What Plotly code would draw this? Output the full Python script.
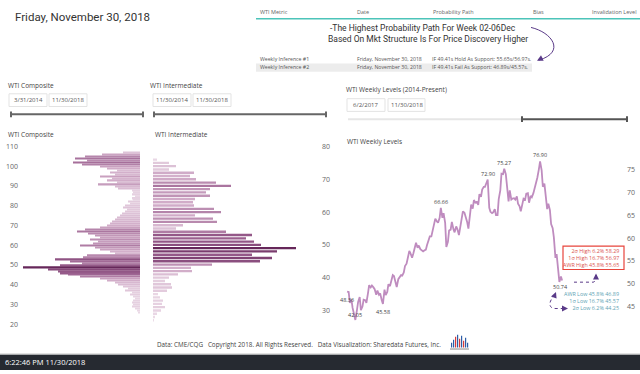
import plotly.graph_objects as go
import pandas as pd

# ---------------- data ----------------
comp_levels = list(range(107, 25, -1))  # 107 .. 26
comp_counts = [17, 38, 55, 65, 53, 67, 58, 40,
               33, 23, 30, 25, 40, 28, 33, 23, 42, 25,
               22, 8, 7, 8, 5, 8, 7, 12, 10, 15,
               17, 13, 15, 18, 20, 23, 25, 28, 30, 33,
               40, 55, 63, 52, 45, 40, 50, 42, 47, 60,
               45, 40, 30, 25, 53, 57, 85, 70, 58, 80,
               117, 92, 82, 80, 72, 60, 40, 33, 25, 22,
               17, 12, 15, 8, 10, 7, 5, 7, 8, 7,
               8, 5, 3, 2]
comp_ticks = [20, 30, 40, 50, 60, 70, 80, 90, 100, 110]

inter_levels = list(range(76, 26, -1))  # 76 .. 27
inter_counts = [4, 16, 23, 16, 41, 37, 43, 63, 78, 57,
                53, 57, 42, 40, 41, 61, 68, 42, 60, 64,
                30, 23, 73, 99, 93, 101, 108, 143, 124, 99,
                119, 107, 59, 38, 39, 25, 16, 12, 18, 19,
                14, 5, 7, 10, 9, 12, 8, 4, 2, 1]
inter_ticks = [30, 40, 50, 60, 70, 80]

fri_dates = pd.date_range("2017-06-02", "2018-11-30", freq="W-FRI")
fri_values = [48.3, 45.8, 44.7, 42.05, 46.0, 44.2, 46.5, 45.8, 49.7, 49.6,
              48.8, 48.5, 47.9, 45.58, 47.5, 49.9, 50.7, 51.7, 49.3, 51.5,
              51.8, 53.9, 55.6, 56.7, 56.6, 59.0, 58.4, 57.4, 57.3, 58.5,
              60.4, 61.4, 64.3, 63.4, 66.66, 65.5, 58.1, 61.7, 63.6, 61.3,
              62.0, 62.3, 65.9, 64.9, 62.1, 67.4, 68.4, 68.1, 69.7, 70.7,
              71.3, 72.90, 65.8, 65.7, 65.1, 68.6, 74.2, 75.27, 71.0, 70.5,
              68.7, 68.5, 67.6, 65.9, 68.7, 69.8, 67.8, 69.0, 70.8, 73.3,
              76.90, 71.3, 69.1, 67.6, 63.1, 60.2, 56.5, 50.4, 50.74]
tue_dates = pd.date_range("2017-06-06", "2018-11-27", freq="W-TUE")
tue_values = [48.2, 46.5, 43.2, 44.2, 47.1, 45.0, 46.4, 47.9, 49.2, 49.2,
              47.6, 47.6, 46.4, 48.7, 48.2, 49.5, 51.9, 50.4, 51.0, 51.9,
              52.5, 54.4, 57.2, 55.7, 57.8, 57.9, 57.6, 57.1, 57.5, 59.97,
              60.4, 63.0, 63.7, 64.5, 64.5, 63.4, 59.2, 61.9, 62.0, 62.6,
              60.7, 63.5, 65.6, 63.5, 65.5, 66.5, 67.7, 67.3, 69.1, 71.3,
              72.2, 66.7, 65.5, 66.4, 65.1, 70.5, 74.1, 74.1, 68.1, 68.5,
              68.8, 69.2, 67.0, 67.4, 68.5, 69.9, 69.3, 69.9, 72.3, 75.2,
              74.9, 72.0, 66.4, 66.2, 62.2, 55.7, 53.4, 51.6]
week_ticks = [45, 50, 55, 60, 65, 70, 75]

label_dates = ["2017-06-02", "2017-06-23", "2017-09-01", "2018-01-26",
               "2018-05-25", "2018-07-06", "2018-10-05", "2018-11-30"]
label_values = [48.3, 42.05, 45.58, 66.66, 72.90, 75.27, 76.90, 50.74]
label_texts = ["48.36", "42.05", "45.58", "66.66", "72.90", "75.27", "76.90", "50.74"]
label_shift = [-8, 5, -8, 6, 6, 6, 6, -7]
label_xshift = [0, 0, 0, 0, 0, 0, 0, -2]

high_lines = ["2σ High 6.2% 58.29", "1σ High 16.7% 56.97", "AWR High 45.8% 55.65"]
low_lines = ["AWR Low 45.8% 46.89", "1σ Low 16.7% 45.57", "2σ Low 6.2% 44.25"]

series = pd.concat([pd.Series(fri_values, index=fri_dates),
                    pd.Series(tue_values, index=tue_dates)]).sort_index()

# ---------------- helpers ----------------
W, H = 640, 374
def X(px): return px / W
def Y(py): return 1 - py / H

FONT = "Open Sans"
scale = [[0, "#ecdce8"], [0.3, "#cfa9c6"], [0.65, "#9a5f8e"], [1, "#66275a"]]

fig = go.Figure()
fig.add_trace(go.Bar(y=comp_levels, x=comp_counts, orientation="h", xaxis="x", yaxis="y",
                     width=0.72, showlegend=False, hoverinfo="skip",
                     marker=dict(color=comp_counts, colorscale=scale, cmin=0,
                                 cmax=max(comp_counts), line=dict(width=0))))
fig.add_trace(go.Bar(y=inter_levels, x=inter_counts, orientation="h", xaxis="x2", yaxis="y2",
                     width=0.72, showlegend=False, hoverinfo="skip",
                     marker=dict(color=inter_counts, colorscale=scale, cmin=0,
                                 cmax=max(inter_counts), line=dict(width=0))))
fig.add_trace(go.Scatter(x=series.index, y=series.values, xaxis="x3", yaxis="y3", mode="lines",
                         line=dict(color="#bf8cbf", width=1.8), showlegend=False,
                         hoverinfo="skip"))

tickfont = dict(family=FONT, size=7, color="#666666")
hidden = dict(showticklabels=False, showgrid=False, zeroline=False, showline=False, ticks="")

fig.update_layout(
    width=W, height=H, margin=dict(l=0, r=0, t=0, b=0),
    paper_bgcolor="white", plot_bgcolor="white", showlegend=False,
    font=dict(family=FONT, color="#444"),
    xaxis=dict(domain=[X(22), X(140)], range=[118, 0], anchor="y", **hidden),
    yaxis=dict(domain=[Y(327), Y(145)], range=[20, 110], anchor="x", side="left",
               tickvals=comp_ticks, tickfont=tickfont, showgrid=False, zeroline=False,
               showline=False, ticks="", ticklabelstandoff=3),
    xaxis2=dict(domain=[X(153), X(318)], range=[0, 165], anchor="y2", **hidden),
    yaxis2=dict(domain=[Y(329.8), Y(145)], range=[25, 80], anchor="x2", side="right",
                tickvals=inter_ticks, tickfont=tickfont, showgrid=False, zeroline=False,
                showline=False, ticks="", ticklabelstandoff=3),
    xaxis3=dict(domain=[X(340), X(622)], range=["2017-05-15", "2019-05-01"], type="date",
                anchor="y3", **hidden),
    yaxis3=dict(domain=[Y(332.3), Y(145.7)], range=[40, 80], anchor="x3", side="right",
                tickvals=week_ticks, tickfont=tickfont, showgrid=False, zeroline=False,
                showline=False, ticks="", ticklabelstandoff=4),
)

ann = []
def txt(x, y, s, size=6, color="#555555", xanchor="left", family=FONT, align="left"):
    ann.append(dict(x=X(x), y=Y(y), xref="paper", yref="paper", text=s, showarrow=False,
                    xanchor=xanchor, yanchor="middle", align=align,
                    font=dict(family=family, size=size, color=color)))

txt(13, 12, "Friday, November 30, 2018", size=11.5, color="#333333", family="Roboto")
for x, s in [(258, "WTI Metric"), (355, "Date"), (431, "Probability Path"),
             (531, "Bias"), (590, "Invalidation Level")]:
    txt(x, 7, s, size=5.5, color="#666666")
txt(423, 24, "-The Highest Probability Path For Week 02-06Dec", size=8.5,
    color="#333333", xanchor="center", family="Roboto")
txt(428, 35, "Based On Mkt Structure Is For Price Discovery Higher", size=8.5,
    color="#333333", xanchor="center", family="Roboto")
for y, a, c in [(55, "Weekly Inference #1", "IF 49.41s Hold As Support: 55.65s/56.97s."),
                (64, "Weekly Inference #2", "IF 49.41s Fail As Support: 46.89s/45.57s.")]:
    txt(258, y, a, size=5.2)
    txt(355, y, "Friday, November 30, 2018", size=5.2)
    txt(430, y, c, size=5.2)

txt(6, 82, "WTI Composite", size=6.5, color="#444444")
txt(148, 82, "WTI Intermediate", size=6.5, color="#444444")
txt(344, 87, "WTI Weekly Levels (2014-Present)", size=6.5, color="#444444")
txt(28, 97.5, "3/31/2014", size=6, xanchor="center")
txt(68, 97.5, "11/30/2018", size=6, xanchor="center")
txt(172, 97.5, "11/30/2014", size=6, xanchor="center")
txt(212, 97.5, "11/30/2018", size=6, xanchor="center")
txt(366, 102.5, "6/2/2017", size=6, xanchor="center")
txt(406.5, 102.5, "11/30/2018", size=6, xanchor="center")
txt(6, 133, "WTI Composite", size=6.5, color="#444444")
txt(153, 133, "WTI Intermediate", size=6.5, color="#444444")
txt(345, 140, "WTI Weekly Levels", size=6.5, color="#444444")

txt(621, 259.5, "<br>".join(high_lines), size=5.4, color="#d9534f", xanchor="right",
    align="right")
txt(621, 303.5, "<br>".join(low_lines), size=5.4, color="#5ea3b3", xanchor="right",
    align="right")

txt(155, 348, "Data: CME/CQG   Copyright 2018. All Rights Reserved.   Data Visualization: Sharedata Futures, Inc.",
    size=6.3, color="#444444")
txt(3, 366, "6:22:46 PM 11/30/2018", size=7.5, color="#ffffff")

for d, v, t, sh, xs in zip(label_dates, label_values, label_texts, label_shift, label_xshift):
    ann.append(dict(x=d, y=v, xref="x3", yref="y3", text=t, showarrow=False, yshift=sh,
                    xshift=xs, font=dict(family=FONT, size=5.5, color="#444444")))

def arrowhead(x, y, ax, ay, color="#5a3a88"):
    ann.append(dict(x=X(x), y=Y(y), xref="paper", yref="paper", ax=ax, ay=ay, text="",
                    showarrow=True, arrowhead=2, arrowsize=1.2, arrowwidth=1,
                    arrowcolor=color, standoff=0, startstandoff=0))

arrowhead(537, 57, 6, -3, "#5a3a88")
arrowhead(596, 275, 0, 5)
arrowhead(556, 294, -2, 5)
arrowhead(568, 311, -5, 0)

shapes = []
def rect(x0, y0, x1, y1, fill=None, line=None, lw=1):
    shapes.append(dict(type="rect", xref="paper", yref="paper", x0=X(x0), x1=X(x1),
                       y0=Y(y1), y1=Y(y0), fillcolor=fill or "rgba(0,0,0,0)",
                       line=dict(color=line or "rgba(0,0,0,0)", width=lw if line else 0),
                       layer="below"))
def line(x0, y0, x1, y1, color, lw=1, dash="solid"):
    shapes.append(dict(type="line", xref="paper", yref="paper", x0=X(x0), x1=X(x1),
                       y0=Y(y0), y1=Y(y1), line=dict(color=color, width=lw, dash=dash)))
def path(pts, color, lw=1, dash="solid"):
    d = ""
    for cmd, coords in pts:
        d += cmd + " " + " ".join(f"{X(a):.5f},{Y(b):.5f}" for a, b in coords) + " "
    shapes.append(dict(type="path", xref="paper", yref="paper", path=d.strip(),
                       line=dict(color=color, width=lw, dash=dash)))

# table header
line(256, 14, 640, 14, "#4cc4b9", 1.5)
rect(256, 60, 532, 68.5, fill="#ececec")
# slicer boxes
for x0, x1, y0, y1 in [(9, 47, 91, 104), (49, 87, 91, 104), (153, 191, 91, 104),
                       (193, 231, 91, 104), (347, 385, 96, 109), (388, 425, 96, 109)]:
    rect(x0, y0, x1, y1, fill="white", line="#e3e3e3", lw=1)
# sliders
line(11, 112, 143, 112, "#666666", 2)
line(11, 109, 11, 115, "#666666", 2)
line(143, 109, 143, 115, "#666666", 2)
line(154, 112, 326, 112, "#666666", 2)
line(154, 109, 154, 115, "#666666", 2)
line(326, 109, 326, 115, "#666666", 2)
line(348, 117, 522, 117, "#e6e6e6", 2)
line(522, 117, 627, 117, "#555555", 2)
line(522, 114, 522, 120, "#555555", 2)
line(627, 114, 627, 120, "#555555", 2)
# red box
rect(563, 247, 624, 271, fill="white", line="#e8453c", lw=1.2)
# curved arrow
path([("M", [(531, 23)]), ("C", [(552, 28), (566, 48), (539, 56.5)])], "#5a3a88", 1)
# dotted arrows
path([("M", [(574, 284)]), ("L", [(593, 284)]), ("Q", [(596, 284), (596, 277)])],
     "#5a3a88", 1, "dot")
path([("M", [(555, 297)]), ("C", [(549, 303), (547, 311), (556, 311)]), ("L", [(566, 311)])],
     "#5a3a88", 1, "dot")
# footer
line(0, 357.5, 640, 357.5, "#cfcfcf", 1)
rect(0, 358, 640, 374, fill="#262a31")
# logo
logo_x = [451, 453, 455, 457, 459, 461, 463, 465, 467]
logo_h = [5, 8, 11, 13, 9, 12, 7, 10, 5]
logo_c = ["#2d5ea8", "#2d5ea8", "#d63a3a", "#2d5ea8", "#d63a3a", "#2d5ea8", "#d63a3a", "#2d5ea8", "#2d5ea8"]
for lx, lh, lc in zip(logo_x, logo_h, logo_c):
    rect(lx, 351 - lh, lx + 1.2, 351, fill=lc)
line(450, 352.5, 469, 352.5, "#888888", 1)

fig.update_layout(annotations=ann, shapes=shapes)
fig.write_html("out.html", config={"displayModeBar": False},
               post_script="document.body.style.margin='0px';")
